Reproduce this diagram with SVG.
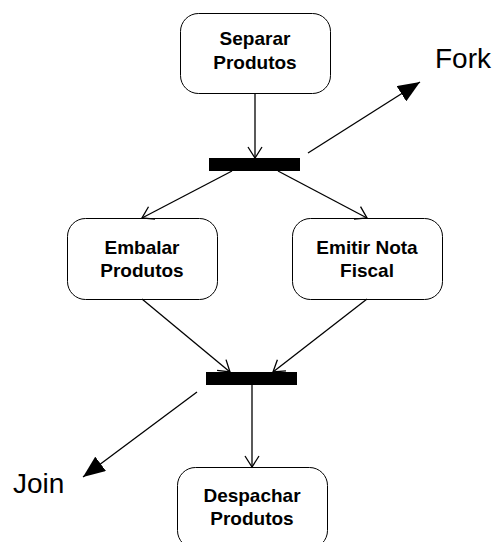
<svg xmlns="http://www.w3.org/2000/svg" width="496" height="542" viewBox="0 0 496 542">
<style>
.box{fill:#fff;stroke:#000;stroke-width:1}
.bar{fill:#000}
.lbl{font-family:"Liberation Sans",Arial,sans-serif;font-weight:bold;font-size:19px;text-anchor:middle;fill:#000}
.note{font-family:"Liberation Sans",Arial,sans-serif;font-size:28px;fill:#000}
.edge{stroke:#000;stroke-width:1.3;fill:none}
</style>
<defs>
<marker id="open" markerUnits="userSpaceOnUse" markerWidth="14" markerHeight="16" viewBox="0 0 14 16" refX="12" refY="8" orient="auto">
<path d="M1,1 L12,8 L1,15" fill="none" stroke="#000" stroke-width="1.3"/>
</marker>
<marker id="solid" markerUnits="userSpaceOnUse" markerWidth="22" markerHeight="18" viewBox="0 0 22 18" refX="22" refY="9" orient="auto">
<path d="M0,0 L22,9 L0,18 Z" fill="#000"/>
</marker>
</defs>
<g id="separar">
<rect class="box" x="180.5" y="13.5" width="150" height="80" rx="18"/>
<text class="lbl" x="255" y="45">Separar</text>
<text class="lbl" x="255" y="69">Produtos</text>
</g>
<g id="fork">
<rect class="bar" x="209" y="158" width="91" height="13"/>
</g>
<g id="embalar">
<rect class="box" x="67.5" y="218.5" width="150" height="81" rx="18"/>
<text class="lbl" x="142" y="254">Embalar</text>
<text class="lbl" x="142" y="277">Produtos</text>
</g>
<g id="emitir">
<rect class="box" x="292.5" y="218.5" width="150" height="81" rx="18"/>
<text class="lbl" x="367" y="254">Emitir Nota</text>
<text class="lbl" x="367" y="277">Fiscal</text>
</g>
<g id="join">
<rect class="bar" x="206" y="372" width="91" height="13"/>
</g>
<g id="despachar">
<rect class="box" x="177.5" y="467.5" width="150" height="81" rx="18"/>
<text class="lbl" x="252" y="502">Despachar</text>
<text class="lbl" x="252" y="525">Produtos</text>
</g>
<g id="fork-label">
<text class="note" x="435" y="68">Fork</text>
</g>
<g id="join-label">
<text class="note" x="13" y="493">Join</text>
</g>
<g id="connectors">
<line class="edge" x1="255" y1="93" x2="255" y2="158" marker-end="url(#open)"/>
<line class="edge" x1="232" y1="171" x2="142" y2="218" marker-end="url(#open)"/>
<line class="edge" x1="278" y1="171" x2="367" y2="218" marker-end="url(#open)"/>
<line class="edge" x1="142" y1="299" x2="230" y2="372" marker-end="url(#open)"/>
<line class="edge" x1="367" y1="299" x2="273" y2="372" marker-end="url(#open)"/>
<line class="edge" x1="252" y1="385" x2="252" y2="467" marker-end="url(#open)"/>
<line class="edge" x1="308" y1="153" x2="420" y2="82" marker-end="url(#solid)"/>
<line class="edge" x1="197" y1="392" x2="83" y2="477" marker-end="url(#solid)"/>
</g>
</svg>
